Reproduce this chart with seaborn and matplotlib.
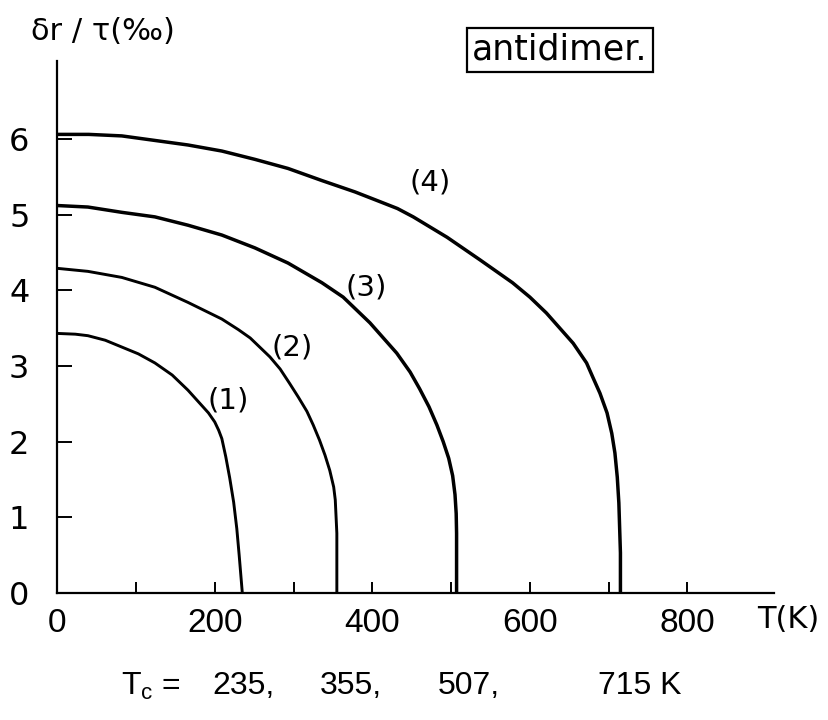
import matplotlib
matplotlib.use("Agg")
import matplotlib.pyplot as plt
import numpy as np
import pandas as pd
import seaborn as sns

# Temperature (K) and lattice distortion dr/tau (per mille) for the four curves
T1 = [0, 23, 39, 61, 82, 103, 124, 146, 166, 179, 192, 200, 205, 209, 214,
      219, 224, 228, 231, 233, 235]
v1 = [3.43, 3.42, 3.40, 3.34, 3.25, 3.16, 3.04, 2.88, 2.68, 2.53, 2.38, 2.26,
      2.15, 2.04, 1.80, 1.52, 1.20, 0.85, 0.50, 0.25, 0.0]

T2 = [0, 39, 82, 124, 166, 209, 230, 245, 257, 270, 283, 295, 306, 317, 325,
      333, 340, 346, 351, 353, 355, 355]
v2 = [4.29, 4.25, 4.17, 4.04, 3.84, 3.62, 3.48, 3.37, 3.25, 3.12, 2.96, 2.77,
      2.59, 2.40, 2.22, 2.02, 1.82, 1.62, 1.40, 1.23, 0.79, 0.0]

T3 = [0, 39, 82, 124, 166, 209, 251, 293, 336, 363, 380, 397, 414, 431, 448,
      460, 472, 482, 490, 497, 502, 505, 506.5, 507, 507]
v3 = [5.12, 5.10, 5.03, 4.97, 4.86, 4.73, 4.56, 4.36, 4.10, 3.91, 3.74, 3.57,
      3.37, 3.17, 2.92, 2.70, 2.46, 2.22, 2.00, 1.78, 1.55, 1.30, 1.05, 0.79, 0.0]

T4 = [0, 40, 82, 124, 166, 209, 251, 293, 336, 378, 410, 432, 452, 495, 537,
      578, 600, 621, 638, 655, 672, 680, 689, 698, 704, 708, 711, 713, 715, 715]
v4 = [6.06, 6.06, 6.04, 5.98, 5.92, 5.84, 5.73, 5.61, 5.45, 5.30, 5.17, 5.08,
      4.97, 4.70, 4.40, 4.10, 3.91, 3.70, 3.50, 3.30, 3.04, 2.85, 2.64, 2.38,
      2.11, 1.85, 1.53, 1.19, 0.53, 0.0]

curve_names = ["(1)", "(2)", "(3)", "(4)"]
Tc_values = [235, 355, 507, 715]

x_ticks = [0, 200, 400, 600, 800]
x_minor = [100, 300, 500, 700]
y_ticks = [0, 1, 2, 3, 4, 5, 6]

# label anchor points (T, dr) for the curve numbers
label_T = [217, 298, 392, 473]
label_v = [2.55, 3.24, 4.04, 5.42]

frames = []
for name, T, v in zip(curve_names, [T1, T2, T3, T4], [v1, v2, v3, v4]):
    frames.append(pd.DataFrame({"T": T, "dr": v, "curve": name}))
df = pd.concat(frames, ignore_index=True)

sns.set_theme(style="ticks", rc={"text.color": "black",
                                 "axes.labelcolor": "black",
                                 "xtick.color": "black",
                                 "ytick.color": "black",
                                 "axes.edgecolor": "black"})
plt.rcParams["font.family"] = ["DejaVu Sans"]

fig = plt.figure(figsize=(8.29, 7.2), dpi=100)
ax = fig.add_axes([0.069, 0.1764, 0.8647, 0.7389])

widths = {"(1)": 2.1, "(2)": 2.1, "(3)": 2.5, "(4)": 2.5}
for name in curve_names:
    sub = df[df["curve"] == name]
    sns.lineplot(data=sub, x="T", y="dr", ax=ax, color="black",
                 linewidth=widths[name], sort=False, estimator=None,
                 legend=False, solid_joinstyle="round",
                 solid_capstyle="butt")

ax.set_xlim(0, 910)
ax.set_ylim(0, 7.03)
for s in ["top", "right"]:
    ax.spines[s].set_visible(False)
for s in ["left", "bottom"]:
    ax.spines[s].set_linewidth(1.6)
    ax.spines[s].set_color("black")

narrow = ["Liberation Sans", "DejaVu Sans"]
ax.set_xticks(x_ticks)
ax.set_xticks(x_minor, minor=True)
ax.set_yticks(y_ticks)
ax.set_xticklabels([str(t) for t in x_ticks], fontsize=24, family=narrow)
ax.set_yticklabels([str(t) for t in y_ticks], fontsize=23)
ax.tick_params(axis="x", which="both", direction="in", length=8,
               width=1.4, pad=11, colors="black")
ax.tick_params(axis="y", direction="in", length=11, width=1.4, pad=20,
               colors="black")
ax.set_xlabel("")
ax.set_ylabel("")
ax.grid(False)

for name, tx, ty in zip(curve_names, label_T, label_v):
    ax.text(tx, ty, name, fontsize=21, ha="center", va="center")

fig.text(103 / 829, 1 - 32 / 720, "δr / τ(‰)", fontsize=22,
         ha="center", va="center")
fig.text(788 / 829, 1 - 620 / 720, "T(K)", fontsize=22,
         ha="center", va="center")
fig.text(560 / 829, 1 - 50 / 720, "antidimer.", fontsize=25,
         ha="center", va="center",
         bbox=dict(boxstyle="square,pad=0.14", fc="white", ec="black", lw=1.6))

# critical temperatures underneath the axis
bottom_font = dict(fontsize=23, va="center", family=narrow)
fig.text(121 / 829, 1 - 686 / 720, r"T$_\mathregular{c}$ =", ha="left", **bottom_font)
tc_x = [212, 320, 438, 598]
for i, (tc, px) in enumerate(zip(Tc_values, tc_x)):
    s = f"{tc}," if i < len(Tc_values) - 1 else f"{tc} K"
    fig.text(px / 829, 1 - 686 / 720, s, ha="left", **bottom_font)

fig.savefig("out.png", dpi=100)
